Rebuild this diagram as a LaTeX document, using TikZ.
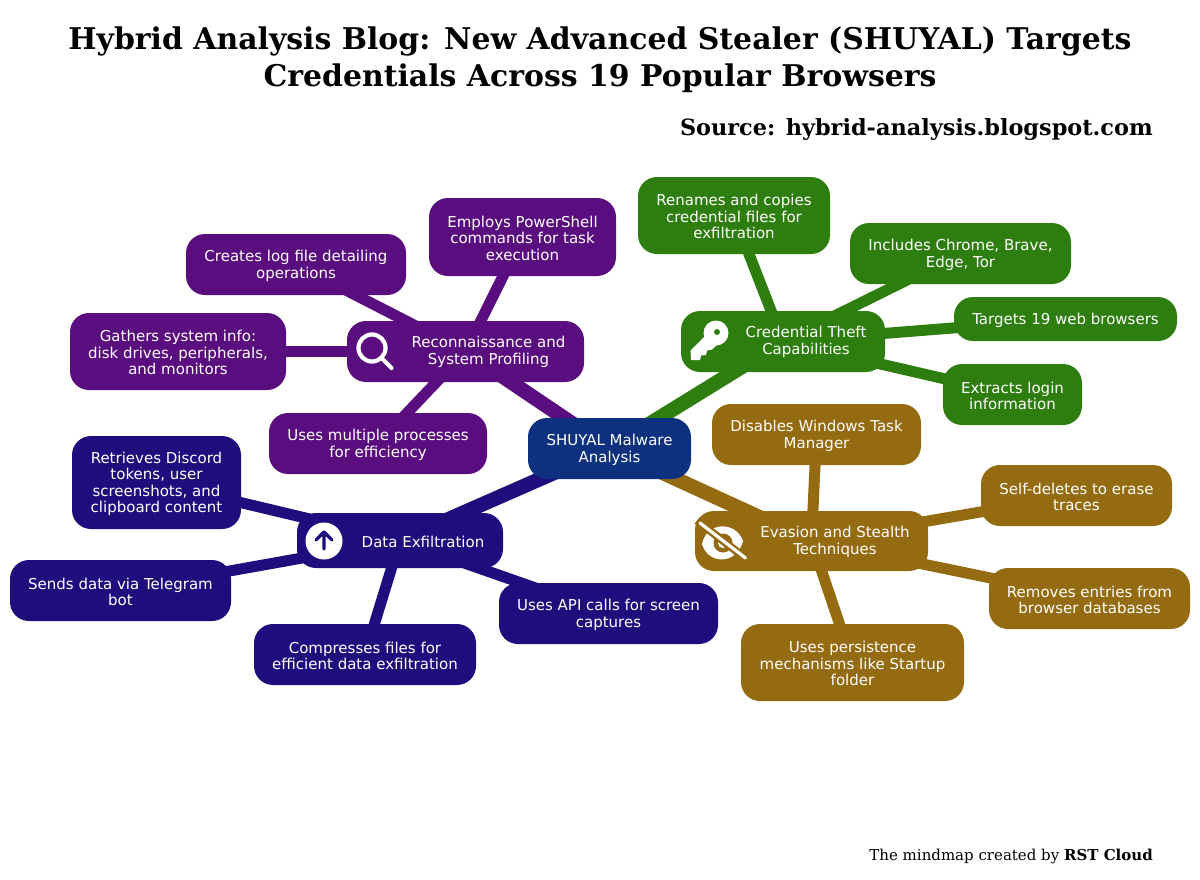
\documentclass[tikz,border=0pt]{standalone}
\usepackage{fontspec}
\setmainfont{DejaVu Sans}
\newfontfamily\serifttl{DejaVu Serif}
\usetikzlibrary{backgrounds}
\definecolor{cmain}{HTML}{0D307F}
\definecolor{cpur}{HTML}{5A0D7E}
\definecolor{cgrn}{HTML}{2E7D0F}
\definecolor{cnav}{HTML}{1F0D7E}
\definecolor{cbrn}{HTML}{946B10}
\tikzset{
  boxbase/.style={rounded corners=19pt,inner sep=0pt},
  labeltxt/.style={inner sep=0pt,align=center,text=white,font=\fontsize{15}{16.5}\selectfont},
  branch/.style={line width=14.5pt},
  twig/.style={line width=11pt},
  ttl/.style={inner sep=0pt,font=\serifttl\bfseries\fontsize{29.9}{37}\selectfont,align=center},
  srcs/.style={inner sep=0pt,font=\serifttl\bfseries\fontsize{22.4}{28}\selectfont,anchor=east},
  foot/.style={inner sep=0pt,font=\serifttl\fontsize{15}{18}\selectfont,anchor=east},
}
\newcommand{\bx}[7]{%
  \pgfmathsetmacro{\cxx}{(#2+#4)/2}\pgfmathsetmacro{\cyy}{(#3+#5)/2}%
  \pgfmathsetmacro{\wdd}{#4-#2}\pgfmathsetmacro{\htt}{#5-#3}%
  \node[boxbase,fill=#6,minimum width=\wdd pt,minimum height=\htt pt] (#1) at (\cxx,\cyy) {};
  \node[labeltxt] (#1T) at (\cxx,\cyy+1.2) {#7};}
\begin{document}
\begin{tikzpicture}[x=1pt,y=-1pt]
\useasboundingbox (0,0) rectangle (1200,879);
\node[ttl] (title) at (600,59.5) {Hybrid Analysis Blog: New Advanced Stealer (SHUYAL) Targets\\Credentials Across 19 Popular Browsers};
\node[srcs] (source) at (1153,129) {Source: hybrid-analysis.blogspot.com};
\node[foot] (footer) at (1153,856) {The mindmap created by \textbf{RST Cloud}};

\bx{center}{528}{418}{691}{479}{cmain}{SHUYAL Malware\\Analysis}
\bx{recon}{347}{321}{584}{382}{cpur}{}
\bx{cred}{681}{311}{885}{372}{cgrn}{}
\bx{data}{297}{513}{503}{568}{cnav}{}
\bx{evas}{695}{511}{928}{571}{cbrn}{}
\node[labeltxt] (reconL) at (488.5,352) {Reconnaissance and\\System Profiling};
\node[labeltxt] (credL) at (806,342) {Credential Theft\\Capabilities};
\node[labeltxt] (dataL) at (423,541.5) {Data Exfiltration};
\node[labeltxt] (evasL) at (835,542) {Evasion and Stealth\\Techniques};

\bx{r1}{429}{198}{616}{276}{cpur}{Employs PowerShell\\commands for task\\execution}
\bx{r2}{186}{234}{406}{295}{cpur}{Creates log file detailing\\operations}
\bx{r3}{70}{313}{286}{390}{cpur}{Gathers system info:\\disk drives, peripherals,\\and monitors}
\bx{r4}{269}{413}{487}{474}{cpur}{Uses multiple processes\\for efficiency}

\bx{c1}{638}{177}{830}{254}{cgrn}{Renames and copies\\credential files for\\exfiltration}
\bx{c2}{850}{223}{1071}{284}{cgrn}{Includes Chrome, Brave,\\Edge, Tor}
\bx{c3}{954}{297}{1177}{341}{cgrn}{Targets 19 web browsers}
\bx{c4}{943}{364}{1082}{425}{cgrn}{Extracts login\\information}

\bx{d1}{72}{436}{241}{529}{cnav}{Retrieves Discord\\tokens, user\\screenshots, and\\clipboard content}
\bx{d2}{10}{560}{231}{621}{cnav}{Sends data via Telegram\\bot}
\bx{d3}{254}{624}{476}{685}{cnav}{Compresses files for\\efficient data exfiltration}
\bx{d4}{499}{583}{718}{644}{cnav}{Uses API calls for screen\\captures}

\bx{e1}{712}{404}{921}{465}{cbrn}{Disables Windows Task\\Manager}
\bx{e2}{981}{465}{1172}{526}{cbrn}{Self-deletes to erase\\traces}
\bx{e3}{989}{568}{1190}{629}{cbrn}{Removes entries from\\browser databases}
\bx{e4}{741}{624}{964}{701}{cbrn}{Uses persistence\\mechanisms like Startup\\folder}

\begin{pgfonlayer}{background}
\draw[branch,cpur] (center.center) -- (recon.center);
\draw[branch,cgrn] (center.center) -- (cred.center);
\draw[branch,cnav] (center.center) -- (data.center);
\draw[branch,cbrn] (center.center) -- (evas.center);
\foreach \a in {r1,r2,r3,r4} \draw[twig,cpur] (recon.center) -- (\a.center);
\foreach \a in {c1,c2,c3,c4} \draw[twig,cgrn] (cred.center) -- (\a.center);
\foreach \a in {d1,d2,d3,d4} \draw[twig,cnav] (data.center) -- (\a.center);
\foreach \a in {e1,e2,e3,e4} \draw[twig,cbrn] (evas.center) -- (\a.center);
\end{pgfonlayer}

% magnifier icon
\draw[white,line width=4.2pt] (372,348) circle (13.5);
\draw[white,line width=4.2pt,line cap=round] (382,358.5) -- (391.5,368);
% key icon
\fill[white] (716,333) circle (12.5);
\fill[white,line join=round] (705,336) -- (690.5,350.5) -- (691,360) -- (700,360) -- (701,355.5) -- (706,355) -- (707,350.5) -- (712,349.5) -- (717,345) -- cycle;
\fill[cgrn] (717,332) circle (3);
% upload icon
\fill[white] (324,541) circle (18.5);
\draw[cnav,line width=3.4pt,line cap=round,line join=round] (324,549) -- (324,532) (316,540) -- (324,532) -- (332,540);
% eye slash icon
\fill[white] (702,544) .. controls (707,521) and (736,521) .. (743,541) .. controls (737,565) and (708,565) .. (702,544) -- cycle;
\fill[cbrn] (723,543) circle (9.5);
\fill[white] (723,543) circle (5);
\draw[cbrn,line width=8pt] (697,520.5) -- (749,561);
\draw[white,line width=3.2pt,line cap=round] (700,523) -- (745.5,558);
\end{tikzpicture}
\end{document}
